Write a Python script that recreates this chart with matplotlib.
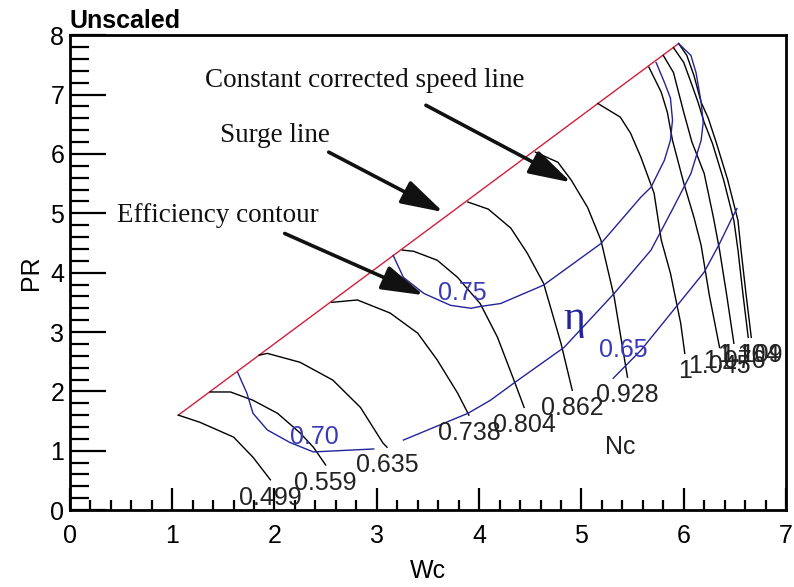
import matplotlib
matplotlib.use("Agg")
import matplotlib.pyplot as plt
from matplotlib.ticker import MultipleLocator

plt.rcParams['font.family'] = ['Liberation Sans', 'DejaVu Sans']

# surge line end points
surge_x = [1.06, 5.95]
surge_y = [1.60, 7.86]

# constant corrected speed lines (Nc)
speed_labels = ['0.499', '0.559', '0.635', '0.738', '0.804', '0.862', '0.928',
                '1', '1.045', '1.076', '1.104', '1.109']
speed_x = [
    [1.06, 1.27, 1.60, 1.79, 1.96],
    [1.37, 1.57, 1.79, 2.03, 2.25, 2.38, 2.50],
    [1.85, 1.93, 2.25, 2.57, 2.84, 3.06, 3.10],
    [2.56, 2.81, 3.13, 3.40, 3.59, 3.79, 3.90],
    [3.25, 3.36, 3.59, 3.79, 4.01, 4.18, 4.34, 4.44],
    [3.89, 4.09, 4.31, 4.47, 4.63, 4.80, 4.91],
    [4.55, 4.77, 4.90, 5.06, 5.19, 5.32, 5.45],
    [5.16, 5.38, 5.48, 5.58, 5.71, 5.78, 5.87, 5.97, 6.01],
    [5.66, 5.78, 5.84, 5.89, 6.00, 6.10, 6.17, 6.25, 6.35],
    [5.80, 5.90, 5.94, 6.00, 6.08, 6.20, 6.29, 6.35, 6.42, 6.49],
    [5.90, 6.00, 6.07, 6.14, 6.20, 6.28, 6.39, 6.49, 6.53, 6.58, 6.63],
    [5.95, 6.03, 6.10, 6.17, 6.24, 6.32, 6.43, 6.53, 6.56, 6.61, 6.66],
]
speed_y = [
    [1.60, 1.48, 1.23, 0.89, 0.51],
    [1.99, 1.99, 1.85, 1.63, 1.30, 1.06, 0.76],
    [2.61, 2.64, 2.49, 2.19, 1.73, 1.13, 1.06],
    [3.50, 3.54, 3.32, 2.98, 2.53, 1.97, 1.60],
    [4.38, 4.36, 4.21, 3.92, 3.48, 2.91, 2.19, 1.73],
    [5.19, 5.07, 4.75, 4.33, 3.82, 2.81, 2.02],
    [6.03, 5.86, 5.56, 5.10, 4.55, 3.59, 2.24],
    [6.85, 6.62, 6.35, 5.95, 5.34, 4.55, 3.99, 3.15, 2.64],
    [7.46, 7.04, 6.70, 6.23, 5.51, 4.93, 4.46, 3.62, 2.74],
    [7.66, 7.37, 7.10, 6.70, 6.20, 5.67, 4.93, 4.38, 3.62, 2.81],
    [7.79, 7.54, 7.21, 6.87, 6.53, 6.18, 5.56, 4.88, 4.38, 3.62, 2.91],
    [7.86, 7.66, 7.32, 6.87, 6.60, 6.18, 5.56, 4.88, 4.38, 3.62, 2.91],
]

# efficiency contours
eff_labels = ['0.70', '0.75', '0.65']
eff_label_x = [2.39, 3.84, 5.41]
eff_label_y = [1.23, 3.65, 2.69]
eff_x = [
    [1.64, 1.73, 1.79, 1.93, 2.15, 2.38, 2.97, None, 3.26, 3.89, 4.11, 4.34,
     4.83, 5.32, 5.68, 5.90, 6.07, 6.17, 6.19, 6.17, 6.12, 6.07, 5.95],
    [3.16, 3.26, 3.46, 3.72, 3.92, 4.01, 4.21, 4.63, 5.19, 5.58, 5.68, 5.81,
     5.87, 5.89, 5.87, 5.81, 5.73],
    [5.31, 5.58, 5.90, 6.20, 6.35, 6.46, 6.52],
]
eff_y = [
    [2.32, 1.97, 1.63, 1.35, 1.14, 0.98, 1.03, None, 1.18, 1.63, 1.85, 2.14,
     2.74, 3.65, 4.38, 5.10, 5.67, 6.23, 6.53, 6.87, 7.37, 7.66, 7.86],
    [4.29, 3.92, 3.65, 3.45, 3.40, 3.43, 3.48, 3.79, 4.49, 5.27, 5.44, 5.89,
     6.23, 6.57, 6.94, 7.21, 7.54],
    [2.22, 2.69, 3.37, 4.01, 4.49, 4.88, 5.08],
]

# callouts: text, text position, arrow tail, arrow tip
notes = ['Constant corrected speed line', 'Surge line', 'Efficiency contour']
note_x = [1.32, 1.47, 0.46]
note_y = [7.24, 6.31, 4.97]
arrow_tail = [(3.48, 6.82), (2.53, 6.03), (2.10, 4.66)]
arrow_tip = [(4.90, 5.52), (3.65, 5.02), (3.46, 3.62)]

fig = plt.figure(figsize=(7.94, 5.87), dpi=100)
ax = fig.add_axes([0.088, 0.131, 0.902, 0.809])

blue = '#23239a'
blue_txt = '#3a3ab8'

ax.plot(surge_x, surge_y, color='#d0203c', lw=1.0)

for xs, ys, lab in zip(speed_x, speed_y, speed_labels):
    ax.plot(xs, ys, color='black', lw=1.0)
    ax.annotate(lab, (xs[-1], ys[-1]), xytext=(0, -13), textcoords='offset points',
                ha='center', va='center', fontsize=18, color='#222222')

for xs, ys in zip(eff_x, eff_y):
    xs = [float('nan') if v is None else v for v in xs]
    ys = [float('nan') if v is None else v for v in ys]
    ax.plot(xs, ys, color=blue, lw=1.0)

for lab, lx, ly in zip(eff_labels, eff_label_x, eff_label_y):
    ax.text(lx, ly, lab, ha='center', va='center', fontsize=18, color=blue_txt)

ax.text(4.93, 3.23, 'η', ha='center', va='center', fontsize=30, color=blue,
        family=['Liberation Serif', 'DejaVu Serif'])
ax.text(5.38, 1.06, 'Nc', ha='center', va='center', fontsize=18, color='#222222')

for txt, tx, ty, tail, tip in zip(notes, note_x, note_y, arrow_tail, arrow_tip):
    ax.text(tx, ty, txt, ha='left', va='center', fontsize=19.5,
            family=['Liberation Serif', 'DejaVu Serif'], color='#111111')
    ax.annotate('', xy=tip, xytext=tail,
                arrowprops=dict(arrowstyle='-|>,head_length=1.3,head_width=0.38',
                                color='#111111', lw=2.6, mutation_scale=20,
                                shrinkA=0, shrinkB=0))

ax.set_xlim(0, 7)
ax.set_ylim(0, 8)
ax.xaxis.set_major_locator(MultipleLocator(1))
ax.yaxis.set_major_locator(MultipleLocator(1))
ax.xaxis.set_minor_locator(MultipleLocator(0.2))
ax.yaxis.set_minor_locator(MultipleLocator(0.2))
ax.tick_params(axis='both', which='both', direction='in', width=1.6, labelsize=18,
               colors='black')
ax.tick_params(axis='x', which='major', length=16, pad=10)
ax.tick_params(axis='x', which='minor', length=7.5)
ax.tick_params(axis='y', which='major', length=26, pad=4)
ax.tick_params(axis='y', which='minor', length=14)
for sp in ax.spines.values():
    sp.set_linewidth(2.0)

ax.set_xlabel('Wc', fontsize=18, labelpad=8)
ax.set_ylabel('PR', fontsize=18, labelpad=5)
ax.set_title('Unscaled', loc='left', fontsize=18, fontweight='bold', pad=5)

fig.savefig('out.png', dpi=100)
